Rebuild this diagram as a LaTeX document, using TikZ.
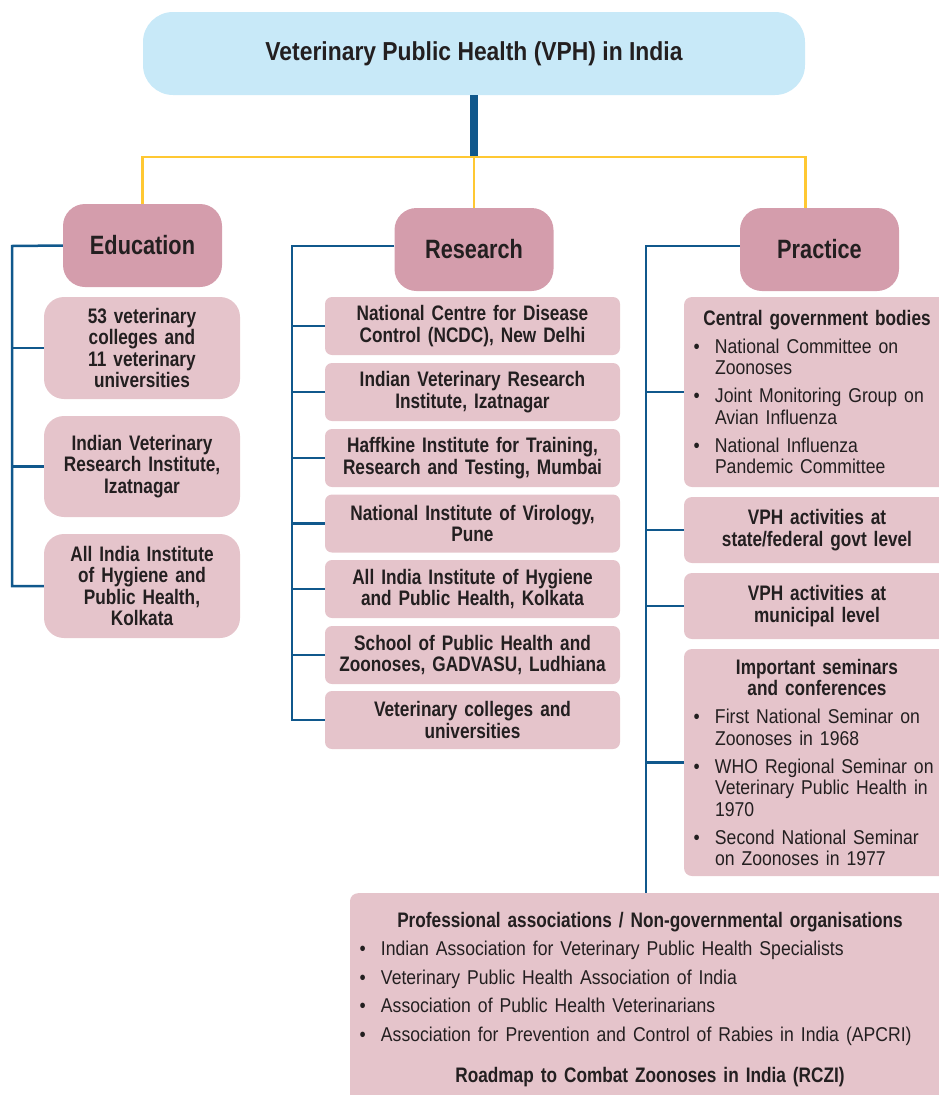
\documentclass[tikz,border=0pt]{standalone}
\usepackage{fontspec}
\setmainfont{Liberation Sans}
\newfontfamily\tfam{Liberation Sans}[FakeStretch=0.88]
\newfontfamily\bfam{Liberation Sans}[FakeStretch=0.82]
\newfontfamily\rfam{Liberation Sans}[FakeStretch=0.88]
\definecolor{topfill}{HTML}{C8E9F8}
\definecolor{catfill}{HTML}{D49DAC}
\definecolor{subfill}{HTML}{E5C4CB}
\definecolor{lineblue}{HTML}{10588C}
\definecolor{lineyel}{HTML}{FFC832}
\definecolor{txt}{HTML}{231F20}
\newlength\bgap
\newcommand{\bitem}[1]{\par\vspace{\bgap}\noindent\hangindent=31pt\hangafter=1\hspace*{9.5pt}\makebox[21.5pt][l]{\textbullet}#1}
\newcommand{\bfont}{\bfam\bfseries\fontsize{21}{21.5}\selectfont}
\newcommand{\rfont}{\rfam\mdseries\fontsize{20}{21.5}\selectfont}
\tikzset{
  titlebox/.style={fill=topfill, rounded corners=30pt, minimum width=662pt, minimum height=83pt, inner sep=0pt, text=txt, font=\tfam\bfseries\fontsize{26}{30}\selectfont},
  catbox/.style={fill=catfill, rounded corners=22pt, minimum width=159pt, minimum height=83pt, inner sep=0pt, text=txt, font=\bfam\bfseries\fontsize{26.5}{30}\selectfont},
  edubox/.style={fill=subfill, rounded corners=20pt, minimum width=196pt, text width=192pt, inner sep=0pt, align=center, text=txt, font=\bfont},
  rscbox/.style={fill=subfill, rounded corners=7pt, minimum width=295pt, minimum height=58pt, text width=291pt, inner sep=0pt, align=center, text=txt, font=\bfont},
  pracbox/.style={fill=subfill, rounded corners=8pt, minimum width=266pt, text width=266pt, inner sep=0pt, text=txt, font=\bfont},
  bline/.style={draw=lineblue, line width=2.5pt},
  yline/.style={draw=lineyel, line width=2.6pt},
  bthick/.style={draw=lineblue, line width=7.5pt}
}
\begin{document}
\begin{tikzpicture}[x=1pt, y=-1pt]
\useasboundingbox (0,0) rectangle (938,1095);

% title and categories
\node[titlebox] (top) at (474,53.5) {\raisebox{-3pt}{Veterinary Public Health (VPH) in India}};
\node[catbox] (edu) at (142.5,245.5) {Education};
\node[catbox] (rsc) at (474,249.5) {Research};
\node[catbox] (prac) at (819.5,249.5) {Practice};

% education items
\node[edubox, minimum height=102pt] (e1) at (142,348) {53 veterinary\\colleges and\\11 veterinary\\universities};
\node[edubox, minimum height=101pt] (e2) at (142,466.5) {Indian Veterinary\\Research Institute,\\Izatnagar};
\node[edubox, minimum height=104pt] (e3) at (142,586) {All India Institute\\of Hygiene and\\Public Health,\\Kolkata};

% research items
\node[rscbox] (r1) at (472.5,326) {National Centre for Disease\\Control (NCDC), New Delhi};
\node[rscbox] (r2) at (472.5,392) {Indian Veterinary Research\\Institute, Izatnagar};
\node[rscbox] (r3) at (472.5,458) {Haffkine Institute for Training,\\Research and Testing, Mumbai};
\node[rscbox] (r4) at (472.5,523.5) {National Institute of Virology,\\Pune};
\node[rscbox] (r5) at (472.5,589) {All India Institute of Hygiene\\and Public Health, Kolkata};
\node[rscbox] (r6) at (472.5,655) {School of Public Health and\\Zoonoses, GADVASU, Ludhiana};
\node[rscbox] (r7) at (472.5,720) {Veterinary colleges and\\universities};

% practice items
\node[pracbox, minimum height=190pt] (p1) at (817,392) {%
  {\centering Central government bodies\par}
  \rfont\raggedright\setlength\bgap{6.5pt}%
  \bitem{National Committee on\newline Zoonoses}
  \bitem{Joint Monitoring Group on\newline Avian Influenza}
  \bitem{National Influenza\newline Pandemic Committee}\par};
\node[pracbox, minimum height=66pt, align=center] (p2) at (817,530) {VPH activities at\\state/federal govt level};
\node[pracbox, minimum height=66pt, align=center] (p3) at (817,606) {VPH activities at\\municipal level};
\node[pracbox, minimum height=227pt] (p4) at (817,762.5) {%
  {\centering Important seminars\\and conferences\par}
  \rfont\raggedright\setlength\bgap{6.5pt}%
  \bitem{First National Seminar on\newline Zoonoses in 1968}
  \bitem{WHO Regional Seminar on\newline Veterinary Public Health in\newline 1970}
  \bitem{Second National Seminar\newline on Zoonoses in 1977}\par};

% bottom box
\node[fill=subfill, rounded corners=8pt, anchor=north, minimum width=600pt, text width=600pt, inner xsep=0pt, inner ysep=19pt, text=txt, font=\bfont] (bot) at (650,893) {%
  {\centering Professional associations / Non-governmental organisations\par}
  \rfont\raggedright\setlength\bgap{7pt}%
  \bitem{Indian Association for Veterinary Public Health Specialists}
  \bitem{Veterinary Public Health Association of India}
  \bitem{Association of Public Health Veterinarians}
  \bitem{Association for Prevention and Control of Rabies in India (APCRI)}\par
  \vspace{20pt}
  {\centering\bfont Roadmap to Combat Zoonoses in India (RCZI)\par}};

% top connectors
\coordinate (ybar) at (474,157);
\coordinate (yr) at (top.east |- ybar);
\draw[bthick] (top.south) -- ([yshift=1.3pt]ybar);
\draw[yline] (edu.north) |- (yr) -- (yr |- prac.north);
\draw[yline] (ybar) -- (rsc.north);

% education tree
\coordinate (es) at (12,246);
\draw[bline] (edu.west) -- (es) -- (es |- e3.west) -- (e3.west);
\draw[bline] (es |- e1.west) -- (e1.west);
\draw[bline] (es |- e2.west) -- (e2.west);

% research tree
\coordinate (rs) at (292,246);
\draw[bline] (rs -| rsc.west) -- (rs) -- (rs |- r7.west) -- (r7.west);
\draw[bline] (rs |- r1.west) -- (r1.west);
\draw[bline] (rs |- r2.west) -- (r2.west);
\draw[bline] (rs |- r3.west) -- (r3.west);
\draw[bline] (rs |- r4.west) -- (r4.west);
\draw[bline] (rs |- r5.west) -- (r5.west);
\draw[bline] (rs |- r6.west) -- (r6.west);

% practice tree
\coordinate (ps) at (646,246);
\draw[bline] (ps -| prac.west) -- (ps) -- (ps |- bot.north);
\draw[bline] (ps |- p1.west) -- (p1.west);
\draw[bline] (ps |- p2.west) -- (p2.west);
\draw[bline] (ps |- p3.west) -- (p3.west);
\draw[bline] (ps |- p4.west) -- (p4.west);
\end{tikzpicture}
\end{document}
